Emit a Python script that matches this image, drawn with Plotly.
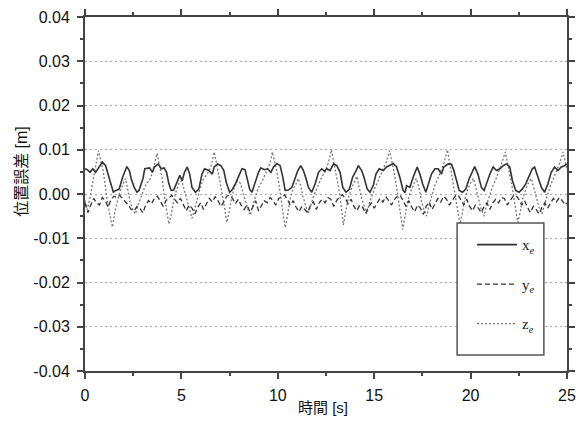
import plotly.graph_objects as go

# ---- data (values in millimetres, converted to metres for plotting) ----
t_x = [0.0, 0.12, 0.26, 0.4, 0.55, 0.72, 0.9, 1.07, 1.2, 1.33, 1.47, 1.6, 1.77, 1.95, 2.07, 2.17, 2.3, 2.4,
       2.55, 2.7, 2.8, 3.0, 3.1, 3.35, 3.5, 3.6, 3.8, 3.95, 4.1, 4.23, 4.35, 4.47, 4.6, 4.78, 4.92, 5.04,
       5.16, 5.3, 5.43, 5.55, 5.73, 5.9, 6.07, 6.2, 6.42, 6.6, 6.7, 6.88, 7.05, 7.2, 7.33, 7.5, 7.62, 7.8,
       7.97, 8.14, 8.3, 8.4, 8.54, 8.66, 8.83, 9.0, 9.12, 9.3, 9.47, 9.64, 9.78, 9.95, 10.12, 10.26, 10.38,
       10.55, 10.73, 10.9, 11.04, 11.19, 11.33, 11.47, 11.59, 11.76, 11.94, 12.11, 12.28, 12.42, 12.54,
       12.71, 12.89, 13.06, 13.23, 13.37, 13.54, 13.71, 13.88, 14.06, 14.18, 14.35, 14.47, 14.64, 14.78,
       14.95, 15.09, 15.26, 15.47, 15.64, 15.81, 15.99, 16.16, 16.33, 16.5, 16.6, 16.68, 16.85, 17.02,
       17.23, 17.37, 17.51, 17.68, 17.8, 17.97, 18.15, 18.32, 18.49, 18.61, 18.84, 19.01, 19.13, 19.27,
       19.41, 19.58, 19.75, 19.92, 20.09, 20.21, 20.38, 20.56, 20.7, 20.82, 21.0, 21.17, 21.34, 21.52,
       21.69, 21.86, 22.03, 22.17, 22.34, 22.51, 22.68, 22.86, 23.03, 23.2, 23.32, 23.5, 23.67, 23.84,
       24.01, 24.18, 24.36, 24.53, 24.7, 24.87, 25.0]
x_e_mm = [5.7, 5.5, 4.9, 5.7, 4.9, 6.1, 7.2, 6.4, 4.5, 2.3, 0.4, 0.8, 1.1, 3.8, 4.9, 6.2, 5.3, 3.4,
          1.5, 0.4, 0.8, 3.4, 5.7, 5.9, 4.9, 6.1, 6.8, 5.7, 5.9, 4.9, 2.3, 0.8, 0.9, 2.6, 4.2, 3.0,
          4.9, 6.1, 4.5, 1.5, 0.4, 1.1, 4.5, 5.7, 5.3, 4.5, 6.1, 6.8, 6.4, 5.3, 2.6, 0.4, 0.9, 2.3,
          4.2, 5.7, 5.5, 3.8, 1.1, 0.4, 2.6, 4.9, 5.9, 5.5, 5.7, 4.9, 6.1, 6.9, 6.4, 3.8, 0.8,
          0.9, 1.5, 3.8, 5.3, 6.4, 5.3, 3.4, 1.5, 0.4, 2.3, 4.9, 5.7, 5.1, 5.7,
          5.3, 6.8, 6.4, 4.9, 1.5, 0.4, 1.1, 3.8, 5.3, 6.4, 5.3, 3.8, 1.1, 0.4,
          1.9, 4.5, 5.7, 5.3, 6.1, 6.4, 6.9, 6.1, 3.8, 0.8, 0.3, 1.9, 1.5, 3.8,
          6.1, 4.5, 2.3, 0.4, 2.3, 4.5, 5.7, 5.7, 4.5, 6.1, 6.8, 6.7, 5.3, 3.0,
          0.8, 0.4, 1.1, 3.4, 5.3, 6.2, 4.5, 1.5, 0.8, 2.3, 4.5, 6.1, 5.3, 5.7,
          6.4, 6.8, 6.1, 3.0, 0.8, 0.4, 1.1, 2.3, 4.2, 5.7, 6.1, 3.8, 1.5, 0.4,
          2.3, 4.9, 6.1, 5.3, 6.1, 6.4, 6.8]

t_y = [round(0.15 * i, 2) for i in range(167)] + [25.0]
y_e_mm = [-2.0, -4.2, -2.5, -1.0, -2.0, -2.5, -0.8, -1.5, -3.0, -1.2, -0.5, -0.8, -0.3, -1.0, -1.8, -2.5,
          -3.5, -3.8, -2.8, -3.2, -4.3, -2.5, -1.5, -2.2, -1.0, -0.5, -1.5, -2.8, -1.5, -0.8, -0.3, -1.2,
          -2.0, -1.0, -2.5, -3.8, -2.5, -3.2, -4.5, -3.0, -2.0, -3.5, -2.2, -1.0, -1.8, -0.6, -1.5, -2.8,
          -1.8, -0.5, -0.3, -1.0, -2.2, -1.2, -2.5, -3.5, -2.5, -4.0, -3.0, -1.5, -3.8, -2.8, -1.5, -2.0,
          -0.8, -1.5, -2.5, -1.0, -0.5, -0.2, -1.2, -2.5, -1.5, -3.0, -4.0, -2.8, -3.5, -4.2, -2.5, -1.8,
          -3.5, -2.0, -1.2, -2.0, -0.8, -1.2, -2.8, -1.5, -0.6, -0.2, -1.0, -2.2, -1.2, -2.8, -3.8, -2.5,
          -3.0, -4.4, -3.0, -2.0, -3.2, -2.0, -1.0, -1.8, -0.6, -1.5, -2.5, -1.2, -0.5, -0.3, -1.5, -2.8,
          -1.5, -3.0, -4.0, -2.5, -3.2, -4.6, -2.8, -1.8, -3.5, -2.2, -1.0, -1.8, -0.5, -1.2, -2.5, -1.5,
          -0.5, -0.2, -1.2, -2.5, -1.2, -2.8, -3.8, -2.5, -3.2, -4.2, -2.8, -2.0, -3.5, -2.0, -1.2, -2.0,
          -0.8, -1.0, -2.5, -1.5, -0.5, -0.3, -1.2, -2.5, -1.5, -3.0, -4.2, -2.8, -3.5, -4.5, -3.0, -2.0,
          -3.2, -2.0, -1.0, -1.8, -0.8, -1.5, -2.5, -2.0]

t_z = [0.00, 0.12, 0.25, 0.40, 0.55, 0.70, 0.82, 0.95, 1.05, 1.15, 1.28, 1.42, 1.55, 1.68, 1.80, 1.95,
       2.10, 2.22, 2.35, 2.50, 2.62, 2.75, 2.90, 3.05, 3.20, 3.35, 3.50, 3.62, 3.74, 3.86, 4.00, 4.10,
       4.22, 4.35, 4.48, 4.60, 4.72, 4.88, 5.02, 5.15, 5.28, 5.40, 5.55, 5.68, 5.82, 5.95, 6.10, 6.25,
       6.40, 6.55, 6.70, 6.82, 6.95, 7.08, 7.20, 7.35, 7.48, 7.60, 7.75, 7.90, 8.05, 8.18, 8.30, 8.45,
       8.58, 8.70, 8.85, 9.00, 9.15, 9.30, 9.45, 9.60, 9.72, 9.85, 9.98, 10.10, 10.22, 10.38, 10.50,
       10.62, 10.78, 10.92, 11.05, 11.18, 11.30, 11.45, 11.58, 11.72, 11.85, 12.00, 12.15, 12.30, 12.45,
       12.62, 12.78, 12.90, 13.02, 13.15, 13.28, 13.40, 13.52, 13.65, 13.80, 13.95, 14.10, 14.22, 14.35,
       14.50, 14.62, 14.75, 14.90, 15.05, 15.20, 15.35, 15.50, 15.65, 15.80, 15.92, 16.05, 16.18, 16.32,
       16.48, 16.60, 16.72, 16.88, 17.02, 17.18, 17.32, 17.45, 17.58, 17.72, 17.85, 18.00, 18.15, 18.30,
       18.45, 18.62, 18.80, 18.92, 19.05, 19.18, 19.30, 19.45, 19.58, 19.70, 19.85, 20.00, 20.15, 20.28,
       20.42, 20.55, 20.70, 20.82, 20.98, 21.12, 21.28, 21.42, 21.58, 21.80, 21.92, 22.05, 22.18, 22.30,
       22.45, 22.58, 22.70, 22.85, 23.00, 23.15, 23.28, 23.42, 23.55, 23.70, 23.85, 24.00, 24.15, 24.30,
       24.45, 24.62, 24.80, 24.92, 25.00]
z_e_mm = [-1.5, -3.5, -1.0, 2.5, 5.5, 9.8, 7.5, 5.0, 2.0, -1.5, -4.5, -7.5, -4.0, -1.5, 0.5, 2.0,
          3.5, 1.0, -2.0, -3.8, -4.5, -2.5, -0.5, 1.0, 2.5, 3.0, 5.0, 7.5, 9.2, 6.5, 3.5, 0.0,
          -3.0, -6.8, -4.5, -1.5, 0.5, 2.5, 3.0, 1.0, -1.5, -3.0, -5.5, -3.5, -1.0, 1.0, 3.0, 4.0,
          5.0, 6.5, 9.5, 7.0, 4.0, 1.0, -2.0, -6.4, -4.0, -1.0, 1.5, 3.0, 2.5, 0.5, -1.5, -3.5,
          -4.8, -2.5, -0.5, 1.5, 2.5, 4.0, 5.5, 7.0, 9.5, 7.0, 4.5, 1.0, -3.0, -7.6, -5.0,
          -1.5, 1.0, 2.0, 3.5, 2.0, -0.5, -3.0, -4.5, -2.5, -0.5, 1.0, 2.5, 4.0, 5.0,
          7.0, 10.0, 7.5, 5.0, 1.5, -2.5, -7.0, -4.0, -1.0, 1.0, 2.5, 4.0, 1.5, -1.0,
          -3.0, -4.5, -2.0, 0.0, 1.5, 3.0, 4.5, 6.0, 7.5, 9.8, 7.5, 4.5, 1.0, -3.0,
          -8.0, -5.0, -2.0, 0.5, 2.0, 3.5, 1.5, -1.5, -3.5, -5.0, -2.5, 0.0, 2.0, 3.5,
          5.0, 7.0, 10.0, 7.0, 4.0, 0.5, -3.0, -6.8, -4.0, -1.0, 1.0, 2.5, 3.5, 1.0,
          -1.5, -3.5, -5.0, -2.5, -0.5, 1.5, 3.0, 4.5, 6.5, 9.5, 7.0, 4.0, 1.0, -2.5,
          -6.4, -4.0, -1.0, 1.0, 2.5, 3.5, 1.5, -1.0, -3.0, -4.5, -2.0, 0.0, 2.0, 3.5,
          5.0, 7.0, 9.5, 7.0, 5.5]

x_ticks = [0, 5, 10, 15, 20, 25]
y_ticks = [0.04, 0.03, 0.02, 0.01, 0.0, -0.01, -0.02, -0.03, -0.04]
y_tick_labels = ["0.04", "0.03", "0.02", "0.01", "0.00", "-0.01", "-0.02", "-0.03", "-0.04"]

to_m = lambda arr: [v / 1000.0 for v in arr]

SANS = "Liberation Sans, Arial, Noto Sans CJK JP, sans-serif"
CJK = "Liberation Sans, Noto Sans CJK JP, sans-serif"
SERIF = "Liberation Serif, Times New Roman, serif"

fig = go.Figure()
fig.add_trace(go.Scatter(x=t_z, y=to_m(z_e_mm), mode="lines", name="z<sub><i>e</i></sub>",
                         line=dict(color="#777777", width=1.3, dash="2px,2px"),
                         legendgroup="z", legendrank=3))
fig.add_trace(go.Scatter(x=t_y, y=to_m(y_e_mm), mode="lines", name="y<sub><i>e</i></sub>",
                         line=dict(color="#333333", width=1.3, dash="5px,3px"),
                         legendgroup="y", legendrank=2))
fig.add_trace(go.Scatter(x=t_x, y=to_m(x_e_mm), mode="lines", name="x<sub><i>e</i></sub>",
                         line=dict(color="#333333", width=1.6),
                         legendgroup="x", legendrank=1))

axis_common = dict(showline=True, linecolor="#444444", linewidth=2, mirror="ticks",
                   ticks="outside", ticklen=6, tickwidth=1.5, tickcolor="#444444",
                   tickfont=dict(family=SANS, size=16, color="#111111"), zeroline=False,
                   automargin=False, ticklabeloverflow="allow")

fig.update_xaxes(range=[0, 25], tickvals=x_ticks, showgrid=False, ticklabelstandoff=3,
                 minor=dict(dtick=2.5, ticks="outside", ticklen=3, tickwidth=1.5, tickcolor="#444444"),
                 **axis_common)
fig.update_yaxes(range=[-0.04, 0.04], tickvals=y_ticks, ticktext=y_tick_labels,
                 showgrid=True, gridcolor="#aaaaaa", gridwidth=1, griddash="2px,3px",
                 ticklabelstandoff=4,
                 minor=dict(dtick=0.005, ticks="outside", ticklen=3, tickwidth=1.5, tickcolor="#444444",
                            showgrid=False),
                 **axis_common)

# legend frame
fig.add_shape(type="rect", xref="paper", yref="paper", x0=0.772, x1=0.952, y0=0.045, y1=0.418,
              line=dict(color="#555555", width=1.5), fillcolor="white", layer="above")

# axis titles
fig.add_annotation(text="位置誤差 [m]", xref="paper", yref="paper", x=-0.131, y=0.565,
                   textangle=-90, showarrow=False, xanchor="center", yanchor="middle",
                   font=dict(family=CJK, size=16, color="#111111"))
fig.add_annotation(text="時間 [s]", xref="paper", yref="paper", x=0.494, y=-0.102,
                   showarrow=False, xanchor="center", yanchor="middle",
                   font=dict(family=CJK, size=15, color="#111111"))

fig.update_layout(
    width=576, height=423,
    margin=dict(l=85, r=9, t=17, b=52, autoexpand=False),
    paper_bgcolor="white", plot_bgcolor="white",
    showlegend=True,
    legend=dict(x=0.803, y=0.403, xanchor="left", yanchor="top", bgcolor="rgba(0,0,0,0)",
                borderwidth=0, traceorder="grouped", tracegroupgap=17, itemwidth=40,
                font=dict(family=SERIF, size=15, color="#222222")),
)

# remove the browser's default 8px page margin so the figure fills the window exactly
fig.write_html("out.html", config={"displayModeBar": False},
               post_script="document.body.style.margin='0';document.body.style.overflow='hidden';")
